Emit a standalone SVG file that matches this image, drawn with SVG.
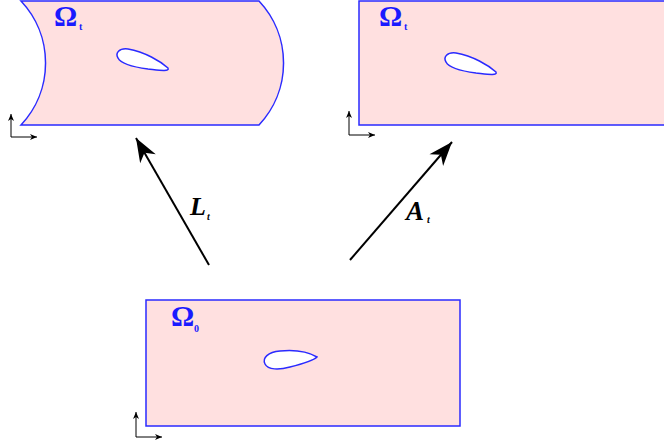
<svg xmlns="http://www.w3.org/2000/svg" width="664" height="446" viewBox="0 0 664 446">
<style>
.dom{fill:#ffe0e0;stroke:#2a2aff;stroke-width:1.5}
.foil{fill:#ffffff;stroke:#2a2aff;stroke-width:1.5}
.om{font-family:"Liberation Serif",serif;font-weight:bold;fill:#1a1aff}
.ax{stroke:#000;stroke-width:1;fill:none}
.map{stroke:#000;stroke-width:2;fill:none}
.lab{font-family:"Liberation Serif",serif;font-weight:bold;font-style:italic;fill:#000}
</style>
<defs>
<marker id="big" markerUnits="userSpaceOnUse" markerWidth="30" markerHeight="20" viewBox="-25 -10 27 20" refX="0" refY="0" orient="auto">
<path d="M0,0 L-24,-9 L-17,0 L-24,9 Z" fill="#000"/>
</marker>
<marker id="sm" markerUnits="userSpaceOnUse" markerWidth="10" markerHeight="8" viewBox="-8 -4 9 8" refX="0" refY="0" orient="auto">
<path d="M0,0 L-7,-3 L-5,0 L-7,3 Z" fill="#000"/>
</marker>
<path id="foilshape" d="M168,68 C160,61 145,52 128,49 C119,48 115,53 118,58 C121,64 133,67 148,69 C158,70 170,72 168,68 Z"/>
</defs>

<g id="domain-lagrangian">
<path class="dom" d="M21,1 L259,1 A90.6,90.6 0 0 1 259,125 L21,125 A90.6,90.6 0 0 0 21,1 Z"/>
<use href="#foilshape" class="foil"/>
<text class="om" x="54" y="26" font-size="29">Ω</text>
<text class="om" x="79" y="30" font-size="10">t</text>
<path class="ax" d="M11,137 L11,114" marker-end="url(#sm)"/>
<path class="ax" d="M11,137 L37,137" marker-end="url(#sm)"/>
</g>

<g id="domain-ale">
<rect class="dom" x="359" y="1" width="320" height="124"/>
<use href="#foilshape" class="foil" transform="translate(328,4)"/>
<text class="om" x="379" y="26" font-size="29">Ω</text>
<text class="om" x="404" y="30" font-size="10">t</text>
<path class="ax" d="M349,135 L349,111" marker-end="url(#sm)"/>
<path class="ax" d="M349,135 L375,135" marker-end="url(#sm)"/>
</g>

<g id="domain-reference">
<rect class="dom" x="146" y="300" width="314" height="126"/>
<path class="foil" d="M317,357 C305,350 290,350 280,351 C268,352 262,358 265,364 C268,370 279,370 290,367 C302,364 313,361 317,357 Z"/>
<text class="om" x="171" y="326" font-size="29">Ω</text>
<text class="om" x="194" y="332" font-size="10">0</text>
<path class="ax" d="M136,437 L136,412" marker-end="url(#sm)"/>
<path class="ax" d="M136,437 L162,437" marker-end="url(#sm)"/>
</g>

<g id="connectors">
<path class="map" d="M209,265 L136,138" marker-end="url(#big)"/>
<path class="map" d="M350,260 L452,142" marker-end="url(#big)"/>
<text class="lab" x="190" y="215" font-size="26">L</text>
<text class="lab" x="207" y="220" font-size="10">t</text>
<text class="lab" x="406" y="220" font-size="27">A</text>
<text class="lab" x="427" y="223" font-size="10">t</text>
</g>
</svg>
